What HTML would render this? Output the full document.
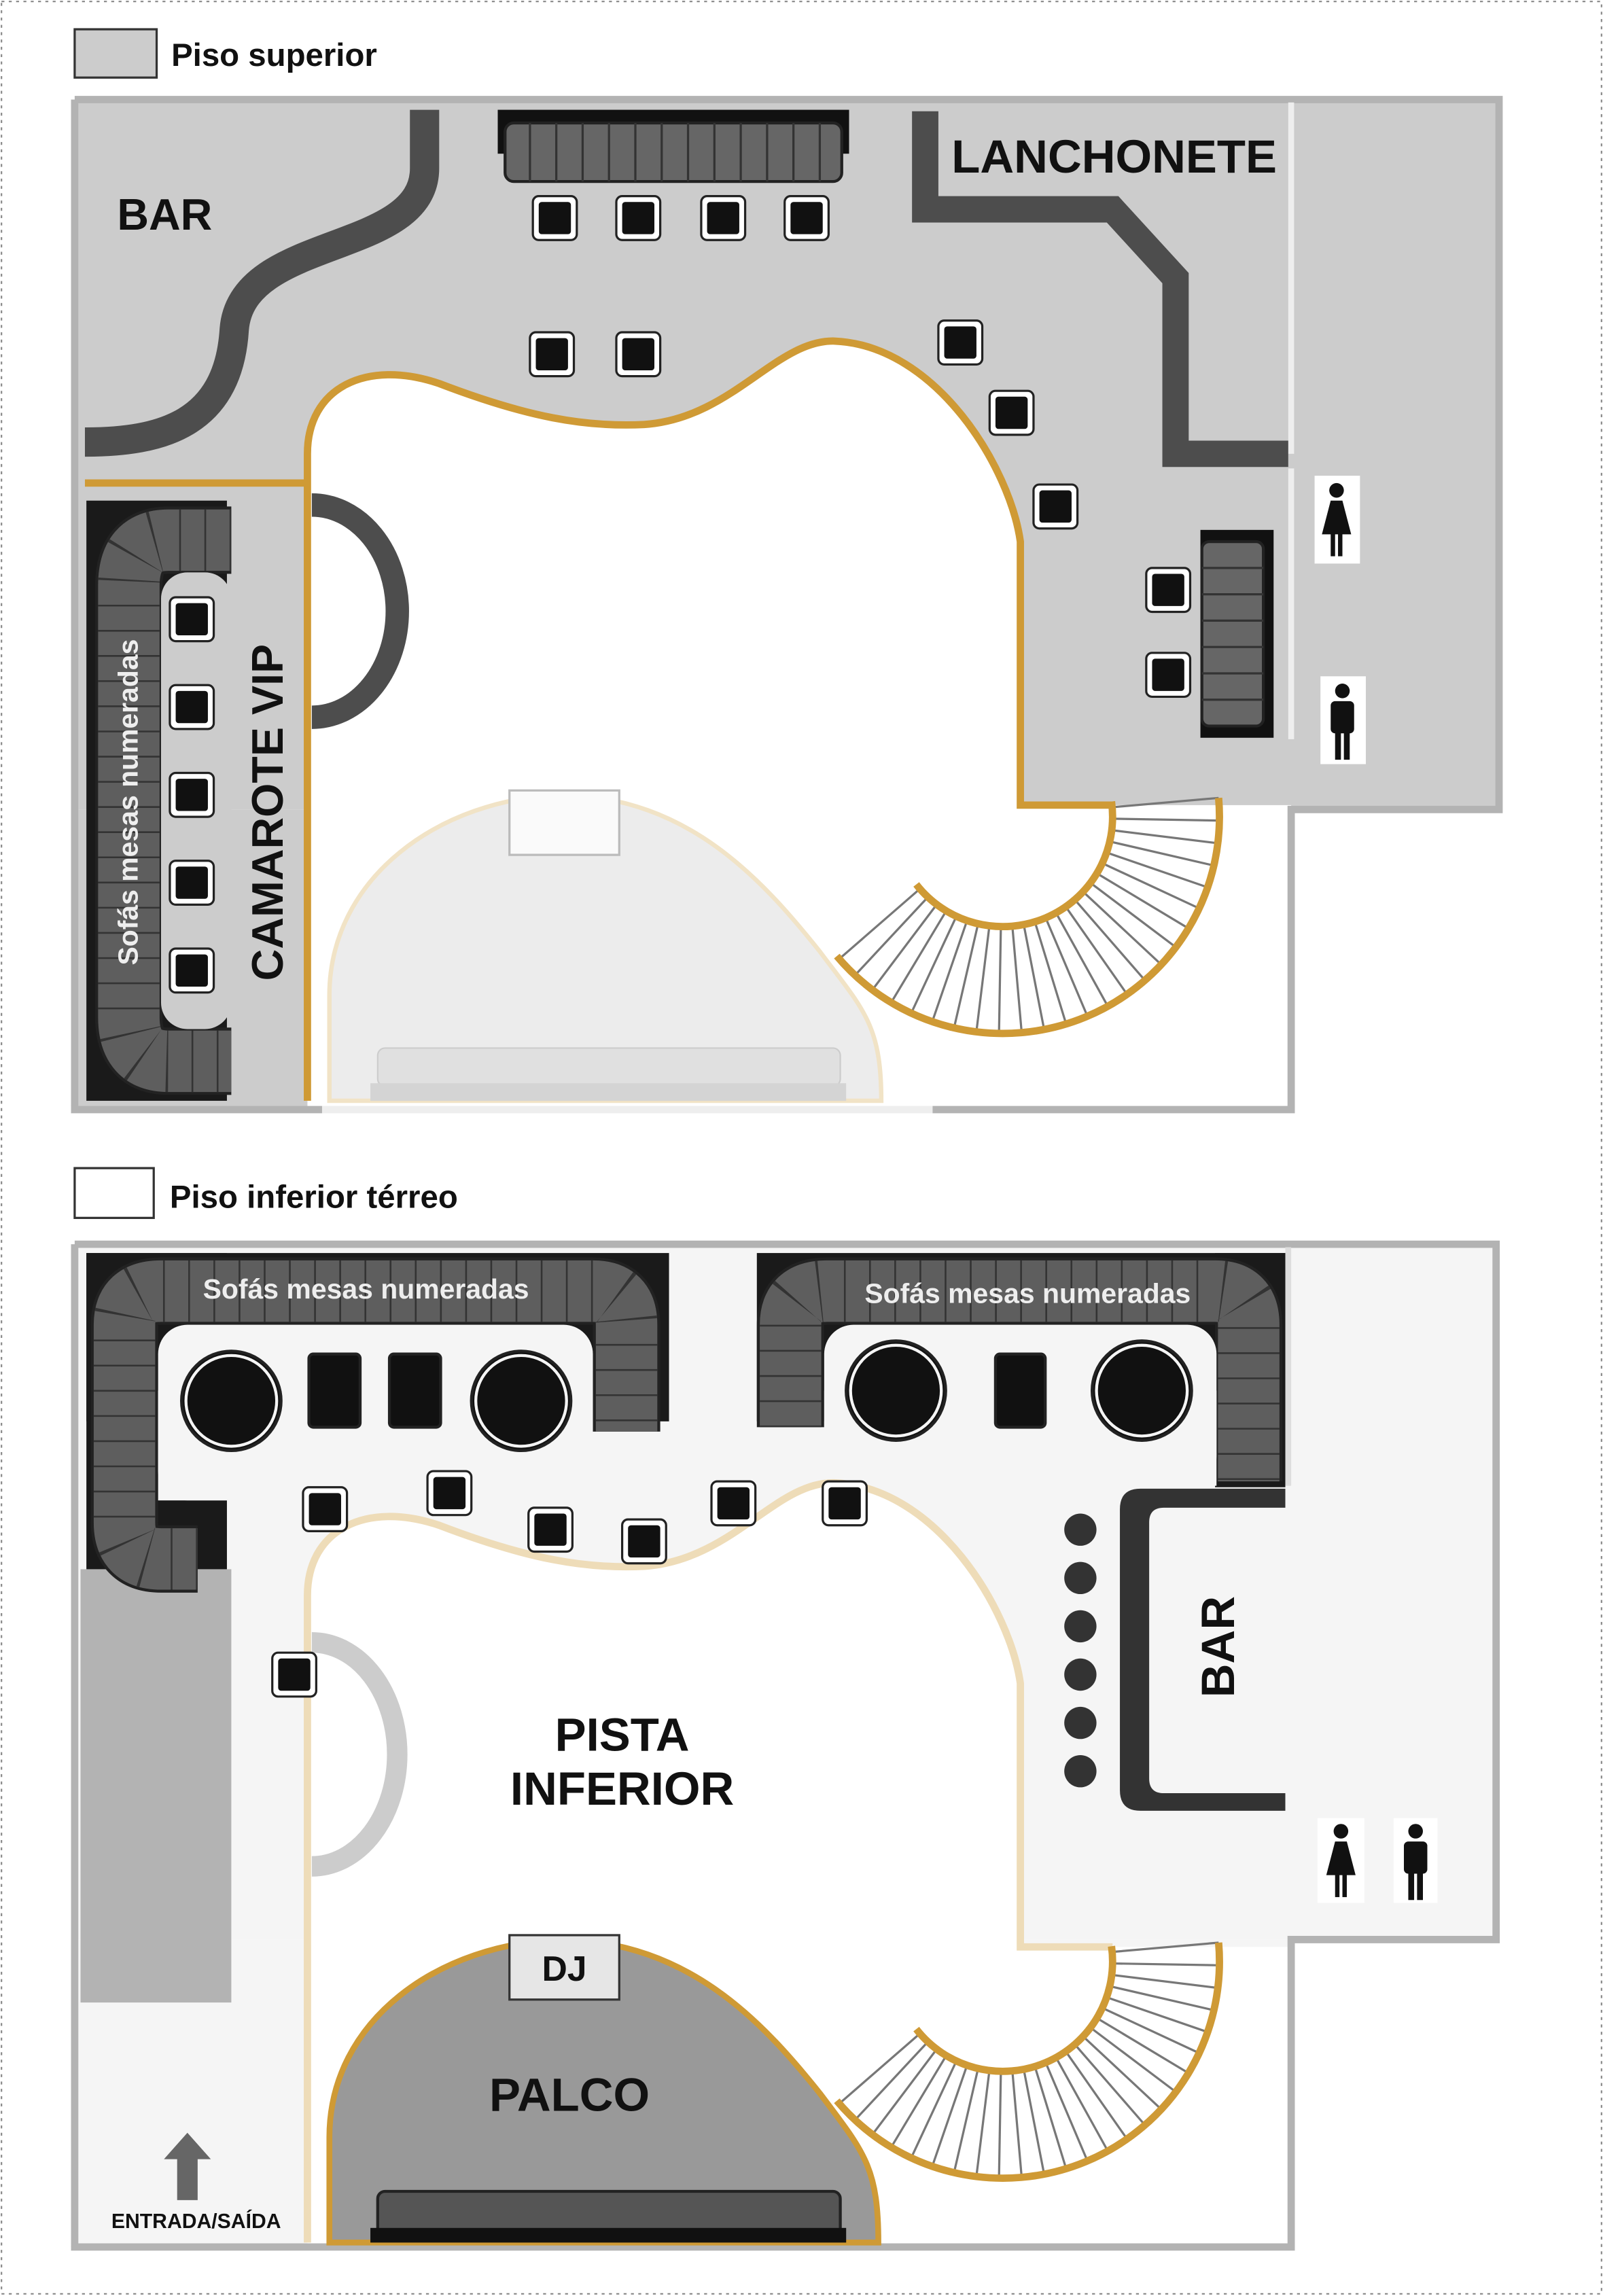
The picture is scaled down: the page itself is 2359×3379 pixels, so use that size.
<!DOCTYPE html>
<html><head><meta charset="utf-8"><style>
html,body{margin:0;padding:0;background:#fff}
svg{display:block}
text{font-family:"Liberation Sans",sans-serif;font-weight:bold}
</style></head><body>
<svg id="s" width="2359" height="3379" viewBox="0 0 1095 1568.5" xmlns="http://www.w3.org/2000/svg">
<rect x="1" y="1" width="1093" height="1566" fill="none" stroke="#888" stroke-width="1" stroke-dasharray="2 3"/>

<!-- ===== UPPER FLOOR ===== -->
<rect x="51" y="20" width="56" height="33" fill="#ccc" stroke="#333" stroke-width="1.5"/>
<text x="117" y="45" font-size="22" fill="#111">Piso superior</text>

<rect x="51" y="68" width="973" height="485" fill="#ccc"/>
<rect x="51" y="553" width="161" height="205" fill="#ccc"/>
<path d="M210,758 L210,310 C210,265 250,245 300,262 C360,285 400,292 440,290 C500,286 530,232 570,233 C640,236 690,320 697,370 L697,550 L882,550 L882,758 Z" fill="#fff"/>
<path d="M225,752 L225,680 C225,600 300,545 385,543 C470,545 520,600 560,650 C590,690 602,700 602,752 Z" fill="#ececec" stroke="#f1e3c6" stroke-width="3"/>
<rect x="348" y="540" width="75" height="44" fill="#fafafa" stroke="#bbb" stroke-width="1.5"/>
<rect x="258" y="716" width="316" height="26" rx="5" fill="#e0e0e0" stroke="#ccc"/>
<rect x="253" y="740" width="325" height="12" fill="#d4d4d4"/>

<polyline points="51,68 1024,68 1024,553 882,553 882,758 637,758" fill="none" stroke="#b3b3b3" stroke-width="5"/>
<polyline points="220,758 51,758 51,68" fill="none" stroke="#b3b3b3" stroke-width="5"/>
<line x1="220" y1="758" x2="637" y2="758" stroke="#eee" stroke-width="5"/>
<line x1="882" y1="70" x2="882" y2="310" stroke="#eee" stroke-width="4"/>
<line x1="882" y1="320" x2="882" y2="505" stroke="#eee" stroke-width="4"/>

<path d="M210,752 L210,310 C210,265 250,245 300,262 C360,285 400,292 440,290 C500,286 530,232 570,233 C640,236 690,320 697,370 L697,550 L760,550" fill="none" stroke="#cf9a35" stroke-width="5"/>
<line x1="58" y1="330" x2="210" y2="330" stroke="#cf9a35" stroke-width="5"/>

<path d="M290,75 L290,115 C290,175 165,160 160,225 C156,290 110,302 58,302" fill="none" stroke="#4d4d4d" stroke-width="20"/>
<text x="80" y="157" font-size="30" fill="#111">BAR</text>

<polyline points="632,76 632,143 760,143 803,190 803,310 880,310" fill="none" stroke="#4d4d4d" stroke-width="18"/>
<text x="650" y="118" font-size="32" fill="#111">LANCHONETE</text>

<rect x="340" y="75" width="240" height="30" fill="#111"/>
<rect x="345" y="84" width="230" height="40" rx="6" fill="#666" stroke="#222" stroke-width="2"/>
<g id="cnt" stroke="#333" stroke-width="1.5"></g>

<rect x="59" y="342" width="96" height="410" fill="#1a1a1a"/>
<path d="M158,369 L115,369 Q88,369 88,400 L88,695 Q88,725 115,725 L158,725" fill="none" stroke="#222" stroke-width="46"/>
<path d="M158,369 L115,369 Q88,369 88,400 L88,695 Q88,725 115,725 L158,725" fill="none" stroke="#5e5e5e" stroke-width="42"/>
<path d="M158,369 L115,369 Q88,369 88,400 L88,695 Q88,725 115,725 L158,725" fill="none" stroke="#333" stroke-width="42" stroke-dasharray="1.2 16"/>
<rect x="110" y="391" width="48" height="312" rx="18" fill="#ccc"/>
<text transform="translate(94,548) rotate(-90)" text-anchor="middle" font-size="19" fill="#eee">Sofás mesas numeradas</text>
<text transform="translate(193,555) rotate(-90)" text-anchor="middle" font-size="30" fill="#111">CAMAROTE VIP</text>
<path d="M213,345 A58 72 0 0 1 213,490" fill="none" stroke="#4d4d4d" stroke-width="16"/>

<rect x="820" y="362" width="50" height="142" fill="#111"/>
<rect x="821" y="370" width="42" height="126" rx="5" fill="#666" stroke="#222" stroke-width="2"/>
<g stroke="#333" stroke-width="1.5">
<line x1="821" y1="388" x2="863" y2="388"/><line x1="821" y1="406" x2="863" y2="406"/><line x1="821" y1="424" x2="863" y2="424"/><line x1="821" y1="442" x2="863" y2="442"/><line x1="821" y1="460" x2="863" y2="460"/><line x1="821" y1="478" x2="863" y2="478"/>
</g>

<g id="tablesTop"></g>
<rect x="898" y="325" width="31" height="60" fill="#fff"/>
<rect x="902" y="462" width="31" height="60" fill="#fff"/>
<g id="stairsTop"></g>

<!-- ===== LOWER FLOOR ===== -->
<rect x="51" y="798" width="54" height="34" fill="#fff" stroke="#333" stroke-width="1.5"/>
<text x="116" y="825" font-size="22" fill="#111">Piso inferior térreo</text>

<rect x="51" y="850" width="971" height="475" fill="#f5f5f5"/>
<rect x="51" y="1325" width="831" height="210" fill="#f5f5f5"/>
<rect x="55" y="1072" width="103" height="296" fill="#b3b3b3"/>

<!-- lower sofas -->
<rect x="59" y="856" width="398" height="115" fill="#1a1a1a"/>
<rect x="59" y="856" width="96" height="216" fill="#1a1a1a"/>
<rect x="517" y="856" width="361" height="115" fill="#1a1a1a"/>
<rect x="830" y="856" width="48" height="160" fill="#1a1a1a"/>
<g id="sofaL"></g>
<rect x="108" y="905" width="297" height="120" rx="20" fill="#f5f5f5"/>
<rect x="108" y="950" width="297" height="75" fill="#f5f5f5"/>
<rect x="563" y="905" width="268" height="110" rx="20" fill="#f5f5f5"/>
<rect x="563" y="950" width="268" height="65" fill="#f5f5f5"/>

<path d="M210,1535 L210,1090 C210,1045 250,1025 300,1042 C360,1065 400,1072 440,1070 C500,1066 530,1012 570,1013 C640,1016 690,1100 697,1150 L697,1330 L882,1330 L882,1535 Z" fill="#fff"/>
<polyline points="51,850 1022,850 1022,1325 882,1325 882,1535 51,1535 51,850" fill="none" stroke="#b3b3b3" stroke-width="5"/>
<line x1="880" y1="852" x2="880" y2="1015" stroke="#ddd" stroke-width="4"/>
<path d="M210,1532 L210,1090 C210,1045 250,1025 300,1042 C360,1065 400,1072 440,1070 C500,1066 530,1012 570,1013 C640,1016 690,1100 697,1150 L697,1330 L760,1330" fill="none" stroke="#eedcb8" stroke-width="5"/>
<path d="M213,1122 A58 76 0 0 1 213,1275" fill="none" stroke="#ccc" stroke-width="14"/>

<text x="250" y="887" text-anchor="middle" font-size="19" fill="#eee">Sofás mesas numeradas</text>
<text x="702" y="890" text-anchor="middle" font-size="19" fill="#eee">Sofás mesas numeradas</text>
<g fill="#111" stroke="#222" stroke-width="2">
<circle cx="158" cy="957" r="34"/><circle cx="356" cy="957" r="34"/><circle cx="612" cy="950" r="34"/><circle cx="780" cy="950" r="34"/>
<rect x="211" y="925" width="35" height="50" rx="3"/><rect x="266" y="925" width="35" height="50" rx="3"/><rect x="680" y="925" width="34" height="50" rx="3"/>
</g>
<g fill="none" stroke="#f5f5f5" stroke-width="2">
<circle cx="158" cy="957" r="31"/><circle cx="356" cy="957" r="31"/><circle cx="612" cy="950" r="31"/><circle cx="780" cy="950" r="31"/>
</g>

<path d="M878,1017 L779,1017 Q765,1017 765,1031 L765,1223 Q765,1237 779,1237 L878,1237 L878,1225 L795,1225 Q785,1225 785,1215 L785,1040 Q785,1030 795,1030 L878,1030 Z" fill="#333"/>
<text transform="translate(843,1125) rotate(-90)" text-anchor="middle" font-size="32" fill="#111">BAR</text>
<g fill="#333"><circle cx="738" cy="1045" r="11"/><circle cx="738" cy="1078" r="11"/><circle cx="738" cy="1111" r="11"/><circle cx="738" cy="1144" r="11"/><circle cx="738" cy="1177" r="11"/><circle cx="738" cy="1210" r="11"/></g>

<text x="425" y="1196" text-anchor="middle" font-size="32" fill="#111">PISTA</text>
<text x="425" y="1233" text-anchor="middle" font-size="32" fill="#111">INFERIOR</text>

<path d="M225,1532 L225,1460 C225,1380 300,1327 385,1325 C470,1327 520,1380 560,1430 C590,1470 600,1480 600,1532 Z" fill="#999" stroke="#cf9a35" stroke-width="4"/>
<rect x="348" y="1322" width="75" height="44" fill="#e6e6e6" stroke="#333" stroke-width="1.5"/>
<text x="385.5" y="1353" text-anchor="middle" font-size="24" fill="#111">DJ</text>
<text x="389" y="1442" text-anchor="middle" font-size="32" fill="#111">PALCO</text>
<rect x="258" y="1497" width="316" height="30" rx="5" fill="#555" stroke="#222" stroke-width="2"/>
<rect x="253" y="1522" width="325" height="10" fill="#111"/>

<rect x="900" y="1242" width="32" height="58" fill="#fff"/>
<rect x="952" y="1242" width="30" height="58" fill="#fff"/>

<path d="M121,1503 L121,1475 L112,1475 L128,1457 L144,1475 L135,1475 L135,1503 Z" fill="#666"/>
<text x="134" y="1522" text-anchor="middle" font-size="14" fill="#111">ENTRADA/SAÍDA</text>

<g id="tablesBot"></g>
<g id="stairsBot"></g>
<g id="wc"></g>
</svg>
<script>
var NS="http://www.w3.org/2000/svg";
function el(p,t,a){var e=document.createElementNS(NS,t);for(var k in a)e.setAttribute(k,a[k]);document.getElementById(p).appendChild(e);return e;}
for(var x=362;x<575;x+=18)el("cnt","line",{x1:x,y1:84,x2:x,y2:124});
function tbl(p,x,y,w,h){w=w||30;h=h||30;el(p,"rect",{x:x,y:y,width:w,height:h,rx:4,fill:"#fff",stroke:"#222","stroke-width":1.5});el(p,"rect",{x:x+4,y:y+4,width:w-8,height:h-8,rx:2,fill:"#111"});}
[[364,134],[421,134],[479,134],[536,134],[362,227],[421,227],[641,219],[676,267],[706,331],[783,388],[783,446],[116,408],[116,468],[116,528],[116,588],[116,648]].forEach(function(p){tbl("tablesTop",p[0],p[1]);});
[[207,1016],[292,1005],[361,1030],[425,1038],[486,1012],[562,1012],[186,1129]].forEach(function(p){tbl("tablesBot",p[0],p[1]);});
["M135,1065 L110,1065 Q85,1065 85,1040 L85,905 Q85,882 110,882 L405,882 Q428,882 428,905 L428,978","M540,975 L540,905 Q540,882 565,882 L830,882 Q853,882 853,905 L853,1012"].forEach(function(d){
el("sofaL","path",{d:d,fill:"none",stroke:"#222","stroke-width":46});
el("sofaL","path",{d:d,fill:"none",stroke:"#5e5e5e","stroke-width":42});
el("sofaL","path",{d:d,fill:"none",stroke:"#333","stroke-width":42,"stroke-dasharray":"1.2 16"});
});
function stairs(p,dy){var cx=685,cy=558+dy,ri=75,ro=148;
for(var a=-5;a<=141;a+=6){var r=a*Math.PI/180;el(p,"line",{x1:cx+ri*Math.cos(r),y1:cy+ri*Math.sin(r),x2:cx+ro*Math.cos(r),y2:cy+ro*Math.sin(r),stroke:"#777","stroke-width":1.5});}
function arc(R,a0,a1){var r0=a0*Math.PI/180,r1=a1*Math.PI/180;return "M"+(cx+R*Math.cos(r0))+","+(cy+R*Math.sin(r0))+" A"+R+" "+R+" 0 0 1 "+(cx+R*Math.cos(r1))+","+(cy+R*Math.sin(r1));}
el(p,"path",{d:arc(ri,-8,142),fill:"none",stroke:"#cf9a35","stroke-width":5});
el(p,"path",{d:arc(ro,-5,140),fill:"none",stroke:"#cf9a35","stroke-width":5});
}
stairs("stairsTop",0);stairs("stairsBot",782);
function fem(x,y){el("wc","circle",{cx:x,cy:y+8,r:5,fill:"#111"});el("wc","path",{d:"M"+(x-4)+","+(y+15)+" L"+(x+4)+","+(y+15)+" L"+(x+10)+","+(y+38)+" L"+(x-10)+","+(y+38)+"Z",fill:"#111"});el("wc","rect",{x:x-4,y:y+37,width:3,height:16,fill:"#111"});el("wc","rect",{x:x+1,y:y+37,width:3,height:16,fill:"#111"});}
function mal(x,y){el("wc","circle",{cx:x,cy:y+8,r:5,fill:"#111"});el("wc","rect",{x:x-8,y:y+15,width:16,height:22,rx:3,fill:"#111"});el("wc","rect",{x:x-5,y:y+35,width:4,height:20,fill:"#111"});el("wc","rect",{x:x+1,y:y+35,width:4,height:20,fill:"#111"});}
fem(913,327);mal(917,464);fem(916,1243);mal(967,1243);
</script>
</body></html>
